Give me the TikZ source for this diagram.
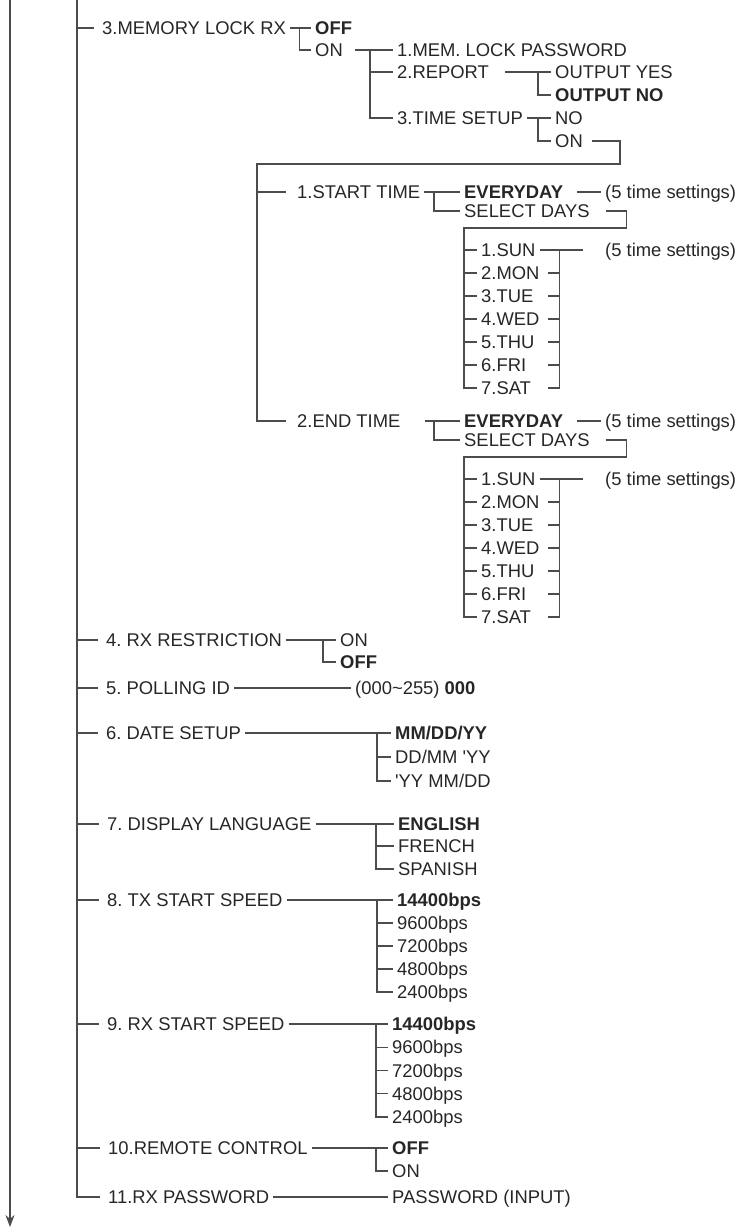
\documentclass[tikz,border=0pt]{standalone}
\usepackage{fontspec}
\setmainfont{Liberation Sans}
\usetikzlibrary{arrows.meta}

\begin{document}
\frenchspacing
\begin{tikzpicture}[x=1pt, y=-1pt,
    item/.style={anchor=west, xshift=-4pt, inner xsep=4pt, inner ysep=0pt,
        text height=13.2pt, text depth=0pt, text=black!85,
        font=\fontsize{18.4}{20}\selectfont},
    sel/.style={item, font=\fontsize{18.4}{20}\selectfont\bfseries},
    wire/.style={draw=black!70, line width=1.1pt}]
    \useasboundingbox (0,0) rectangle (741,1228);

    % flow arrow and main spine
    \draw[wire, -{Stealth[length=12pt, width=9pt]}] (10,0) -- (10,1227);
    \coordinate (spine) at (77,0);

    % 3. memory lock
    \node[item] (mlock) at (102,28) {3.MEMORY LOCK RX};
    \node[sel]  (mloff) at (315,28) {OFF};
    \node[item] (mlon)  at (315,50) {ON};
    \draw[wire] (mlock) -- (mloff);
    \draw[wire] ([xshift=9pt]mlock.east) |- (mlon);

    \node[item] (mpw) at (397,50) {1.MEM. LOCK PASSWORD};
    \node[item] (rep) at (397,72) {2.REPORT};
    \node[item] (tsu) at (397,118) {3.TIME SETUP};
    \draw[wire] ([xshift=8pt]mlon.east) -- (mpw);
    \draw[wire] ([xshift=-23pt]mpw.west) |- (rep);
    \draw[wire] ([xshift=-23pt]mpw.west) |- (tsu);

    \node[item] (oyes) at (555,72) {OUTPUT YES};
    \node[sel]  (ono)  at (555,95) {OUTPUT NO};
    \draw[wire] ([xshift=12pt]rep.east) -- (oyes);
    \draw[wire] ([xshift=-13pt]oyes.west) |- (ono);

    \node[item] (tno) at (555,118) {NO};
    \node[item] (ton) at (555,141) {ON};
    \draw[wire] (tsu) -- (tno);
    \draw[wire] ([xshift=-13pt]tno.west) |- (ton);

    % start / end time
    \node[item] (st) at (297,192) {1.START TIME};
    \node[item] (et) at (297,421) {2.END TIME};
    \draw[wire] ([xshift=5pt]ton.east) -| ++(28,23) -| ([xshift=-36pt]et.west)
        -- ([xshift=-7pt]et.west);
    \draw[wire] ([xshift=-36pt]st.west) -- ([xshift=-7pt]st.west);

    \foreach \b/\yo in {s/0,e/229} {
        \node[sel]  (ev\b) at (464,{192+\yo}) {EVERYDAY};
        \node[item] (sd\b) at (464,{211+\yo}) {SELECT DAYS};
        \node[item] (ts\b) at (605,{192+\yo}) {(5 time settings)};
        \node[item] (dts\b) at (605,{250+\yo}) {(5 time settings)};
        \foreach \d [count=\i] in {1.SUN,2.MON,3.TUE,4.WED,5.THU,6.FRI,7.SAT}
            \node[item] (d\b\i) at (481,{250+\yo+23*(\i-1)}) {\d};

        \draw[wire] ([xshift=-26pt]ev\b.west) |- (sd\b);
        \draw[wire] ([xshift=10pt]ev\b.east) -- (ts\b);
        \draw[wire] ([xshift=12pt]sd\b.east) -| ++(21,17) -| ([xshift=-13pt]d\b7.west)
            -- (d\b7);
        \foreach \i in {1,...,6}
            \draw[wire] ([xshift=-13pt]d\b\i.west) -- (d\b\i);

        % day settings bracket
        \coordinate (sr\b) at ([xshift=20pt]d\b1.east);
        \draw[wire] (d\b1) -- ([xshift=-18pt]dts\b.west);
        \draw[wire] (sr\b) -- (sr\b |- d\b7);
        \foreach \i in {2,...,7}
            \draw[wire] (sr\b |- d\b\i) -- ++(-12,0);
    }
    \draw[wire] (st) -- (evs);
    \draw[wire] ([xshift=20pt]et.east) -- (eve);

    % 4. rx restriction
    \node[item] (rxr)   at (106,640) {4. RX RESTRICTION};
    \node[item] (rxon)  at (340,640) {ON};
    \node[sel]  (rxoff) at (340,662) {OFF};
    \draw[wire] (rxr) -- (rxon);
    \draw[wire] ([xshift=-13pt]rxon.west) |- (rxoff);

    % 5. polling id
    \node[item] (poll) at (106,688) {5. POLLING ID};
    \node[item] (pid)  at (355,688) {(000\textasciitilde 255) \textbf{000}};
    \draw[wire] (poll) -- (pid);

    % 6. date setup
    \node[item] (date) at (106,733) {6. DATE SETUP};
    \node[sel]  (mdy)  at (395,733) {MM/DD/YY};
    \node[item] (dmy)  at (395,757) {DD/MM \textquotesingle YY};
    \node[item] (ymd)  at (395,781) {\textquotesingle YY MM/DD};
    \draw[wire] (date) -- (mdy);
    \draw[wire] ([xshift=-14pt]mdy.west) |- (dmy);
    \draw[wire] ([xshift=-14pt]mdy.west) |- (ymd);

    % 7. display language
    \node[item] (lang) at (107,824) {7. DISPLAY LANGUAGE};
    \node[sel]  (eng)  at (398,824) {ENGLISH};
    \node[item] (fre)  at (398,846) {FRENCH};
    \node[item] (spa)  at (398,869) {SPANISH};
    \draw[wire] (lang) -- (eng);
    \draw[wire] ([xshift=-18pt]eng.west) |- (fre);
    \draw[wire] ([xshift=-18pt]eng.west) |- (spa);

    % 8. / 9. start speeds
    \node[item] (txs) at (107,900) {8. TX START SPEED};
    \node[sel]  (tx1) at (397,900) {14400bps};
    \foreach \s [count=\i from 2] in {9600,7200,4800,2400}
        \node[item] (tx\i) at (397,{900+23*(\i-1)}) {\s bps};
    \draw[wire] (txs) -- (tx1);
    \foreach \i in {2,...,5}
        \draw[wire] ([xshift=-16pt]tx1.west) |- (tx\i);

    \node[item] (rxs) at (107,1024) {9. RX START SPEED};
    \node[sel]  (rx1) at (392,1024) {14400bps};
    \foreach \s [count=\i from 2] in {9600,7200,4800,2400}
        \node[item] (rx\i) at (392,{1024+23.25*(\i-1)}) {\s bps};
    \draw[wire] (rxs) -- (rx1);
    \foreach \i in {2,...,5}
        \draw[wire] ([xshift=-12pt]rx1.west) |- (rx\i);

    % 10. remote control
    \node[item] (rc)    at (108,1148) {10.REMOTE CONTROL};
    \node[sel]  (rcoff) at (392,1148) {OFF};
    \node[item] (rcon)  at (392,1171) {ON};
    \draw[wire] (rc) -- (rcoff);
    \draw[wire] ([xshift=-12pt]rcoff.west) |- (rcon);

    % 11. rx password
    \node[item] (rxp) at (108,1197) {11.RX PASSWORD};
    \node[item] (pin) at (392,1197) {PASSWORD (INPUT)};
    \draw[wire] (rxp) -- (pin);

    % spine ticks
    \foreach \n in {mlock,rxr,poll,date,lang,txs,rxs,rc}
        \draw[wire] (spine |- \n) -- ([xshift=-4pt]\n.west);
    \draw[wire] (spine) |- ([xshift=-4pt]rxp.west);
\end{tikzpicture}
\end{document}
